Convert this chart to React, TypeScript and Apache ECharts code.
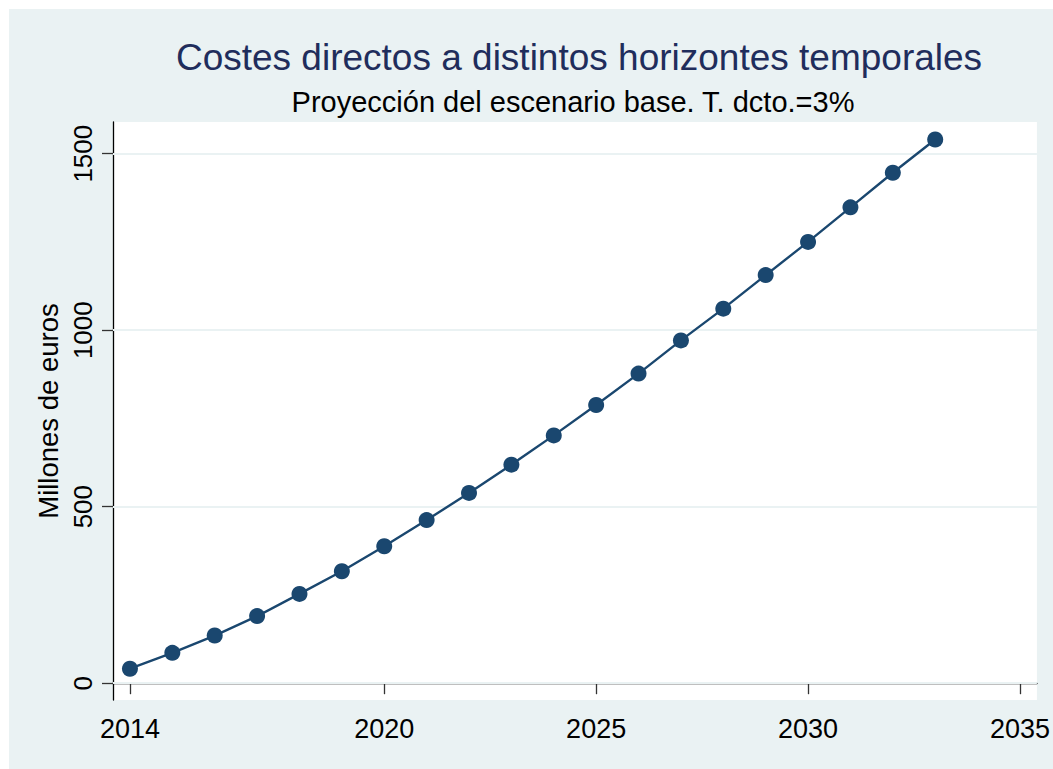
import React, { useEffect, useRef } from "react";
import * as echarts from "echarts";

const titleText = "Costes directos a distintos horizontes temporales";
const subtitleText = "Proyección del escenario base. T. dcto.=3%";
const yAxisName = "Millones de euros";

const years = [2014, 2015, 2016, 2017, 2018, 2019, 2020, 2021, 2022, 2023, 2024, 2025, 2026, 2027, 2028, 2029, 2030, 2031, 2032, 2033];
const costs = [41, 86, 135, 190, 253, 317, 388, 462, 539, 619, 702, 788, 877, 971, 1061, 1156, 1250, 1348, 1446, 1540];

const xTicks = [2014, 2020, 2025, 2030, 2035];
const yTicks = [0, 500, 1000, 1500];

const BG = "#EAF2F3";
const NAVY = "#1A476F";
const FONT = "'Liberation Sans', Arial, Helvetica, sans-serif";

export default function App() {
  const ref = useRef<HTMLDivElement>(null);

  useEffect(() => {
    if (!ref.current) return;
    const chart = echarts.init(ref.current, undefined, { renderer: "svg" });
    const data = years.map((y, i) => [y, costs[i]]);
    chart.setOption({
      animation: false,
      backgroundColor: BG,
      textStyle: { fontFamily: FONT },
      graphic: [
        {
          type: "text",
          x: 570,
          y: 48,
          style: {
            text: titleText,
            fill: "#1F2D5C",
            font: `37px ${FONT}`,
            textAlign: "center",
            textVerticalAlign: "middle",
          },
        },
        {
          type: "text",
          x: 564,
          y: 93,
          style: {
            text: subtitleText,
            fill: "#000000",
            font: `29px ${FONT}`,
            textAlign: "center",
            textVerticalAlign: "middle",
          },
        },
      ],
      grid: {
        left: 104,
        top: 113,
        width: 925,
        height: 578,
        show: true,
        backgroundColor: "#ffffff",
        borderWidth: 0,
      },
      xAxis: {
        type: "value",
        min: 2013.6,
        max: 2035.4,
        axisLine: { show: true, lineStyle: { color: "#000000", width: 1.3 } },
        axisTick: {
          show: true,
          length: 11,
          lineStyle: { color: "#333333", width: 1.3 },
          customValues: xTicks,
        },
        axisLabel: {
          customValues: xTicks,
          fontSize: 27,
          color: "#000000",
          fontFamily: FONT,
          margin: 15,
          formatter: (v: number) => String(v),
        },
        splitLine: { show: false },
      },
      yAxis: {
        type: "value",
        min: -47.6,
        max: 1589.7,
        name: yAxisName,
        nameLocation: "middle",
        nameRotate: 90,
        nameGap: 47,
        nameTextStyle: { fontSize: 27.5, color: "#000000", fontFamily: FONT },
        axisLine: { show: true, lineStyle: { color: "#000000", width: 1.3 } },
        axisTick: {
          show: true,
          length: 11,
          lineStyle: { color: "#333333", width: 1.3 },
          customValues: yTicks,
        },
        axisLabel: {
          customValues: yTicks,
          rotate: 90,
          fontSize: 26,
          color: "#000000",
          fontFamily: FONT,
          margin: 17,
          formatter: (v: number) => String(v),
        },
        splitLine: { show: false },
      },
      series: [
        {
          type: "line",
          data: [],
          z: 1,
          silent: true,
          markLine: {
            silent: true,
            z: 1,
            symbol: ["none", "none"],
            label: { show: false },
            lineStyle: { color: BG, width: 2.2, type: "solid" },
            data: yTicks.map((t) => ({ yAxis: t })),
          },
        },
        {
          type: "line",
          data,
          z: 3,
          symbol: "circle",
          symbolSize: 16,
          showSymbol: true,
          itemStyle: { color: NAVY },
          lineStyle: { color: NAVY, width: 2.4 },
        },
      ],
    });
    return () => chart.dispose();
  }, []);

  return (
    <div
      ref={ref}
      style={{ position: "fixed", left: 9, top: 9, width: 1044, height: 760 }}
    />
  );
}
